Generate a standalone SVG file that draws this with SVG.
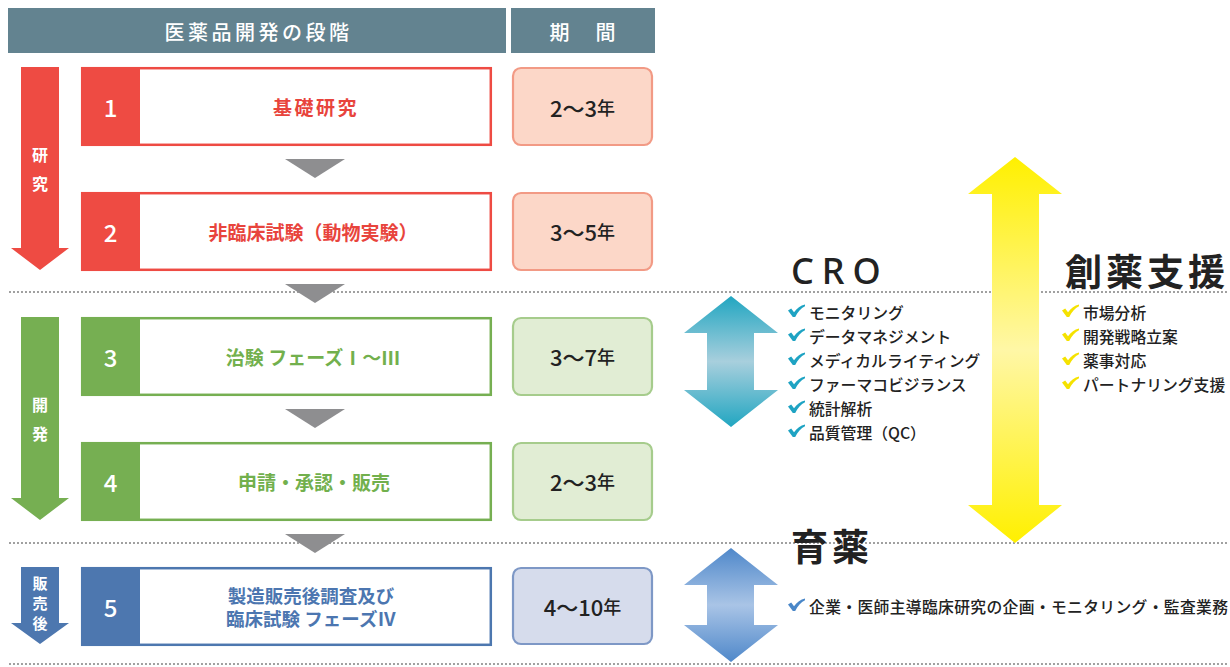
<svg xmlns="http://www.w3.org/2000/svg" width="1230" height="667" viewBox="0 0 1230 667">
<style>
text{font-family:"Noto Sans CJK JP","Noto Sans",sans-serif}
.hd{fill:#638390}
.hdt{fill:#fff;font-size:20px;font-weight:500;text-anchor:middle;dominant-baseline:central}
.vt{fill:#fff;font-size:16px;font-weight:700;text-anchor:middle;dominant-baseline:central}
.vs{font-size:15px}
.num{fill:#fff;font-size:24px;font-weight:500;text-anchor:middle;dominant-baseline:central}
.lbl{font-size:19px;font-weight:700;text-anchor:middle;dominant-baseline:central}
.per{fill:#222;font-size:22px;font-weight:500;text-anchor:middle;dominant-baseline:central}
.per tspan.y{font-size:18px}
.tri{fill:#8e8e90}
.dot{stroke:#8c8c8c;stroke-width:2.2;stroke-linecap:round;stroke-dasharray:0 4;fill:none}
.big{fill:#222;font-size:37px;font-weight:700;dominant-baseline:central}
.li{fill:#222;font-size:15.8px;font-weight:500;dominant-baseline:central}
.red{fill:#ee4b43}.redS{stroke:#ee4b43}.redT{fill:#e8443c}
.grn{fill:#76af52}.grnS{stroke:#76af52}.grnT{fill:#72b04d}
.blu{fill:#4d77af}.bluS{stroke:#4d77af}.bluT{fill:#4c76b0}
.box{fill:#fff;stroke-width:2.5}
</style>
<defs>
<linearGradient id="gc" x1="0" y1="0" x2="0" y2="1">
<stop offset="0" stop-color="#21a6c1"/><stop offset="0.5" stop-color="#a8cfdd"/><stop offset="1" stop-color="#21a6c1"/>
</linearGradient>
<linearGradient id="gb" x1="0" y1="0" x2="0" y2="1">
<stop offset="0" stop-color="#4f88ca"/><stop offset="0.5" stop-color="#a9c4e6"/><stop offset="1" stop-color="#4f88ca"/>
</linearGradient>
<linearGradient id="gy" x1="0" y1="0" x2="0" y2="1">
<stop offset="0" stop-color="#fff000"/><stop offset="0.5" stop-color="#fff7a6"/><stop offset="1" stop-color="#fff000"/>
</linearGradient>
<path id="ck" d="M0,-1.5 L3.2,-3.6 L6,0.3 C9,-4 12.5,-6.6 17,-7.6 L17,-5.8 C13,-3.8 9.6,0.2 7.2,5 L4.8,5 Z"/>
</defs>

<g id="dotted-lines">
<line class="dot" x1="10" y1="292" x2="1230" y2="292"/>
<line class="dot" x1="10" y1="543" x2="1230" y2="543"/>
<line class="dot" x1="10" y1="664" x2="1230" y2="664"/>
</g>

<g id="header">
<rect class="hd" x="8" y="8" width="498" height="45"/>
<rect class="hd" x="511" y="8" width="144" height="45"/>
<text class="hdt" x="258.5" y="31" letter-spacing="3.5">医薬品開発の段階</text>
<text class="hdt" x="584" y="31" letter-spacing="3">期　間</text>
</g>

<g id="stage-arrows">
<path class="red" d="M21,67 L59,67 L59,248 L69,248 L40,270 L11,248 L21,248 Z"/>
<text class="vt" x="40" y="154">研</text>
<text class="vt" x="40" y="183">究</text>
<path class="grn" d="M21,317 L59,317 L59,498 L69,498 L40,520 L11,498 L21,498 Z"/>
<text class="vt" x="40" y="404">開</text>
<text class="vt" x="40" y="433">発</text>
<path class="blu" d="M21,567 L59,567 L59,623 L69,623 L40,644 L11,623 L21,623 Z"/>
<text class="vt vs" x="40" y="582">販</text>
<text class="vt vs" x="40" y="602">売</text>
<text class="vt vs" x="40" y="622">後</text>
</g>

<g id="connectors">
<path class="tri" d="M285,159 L345,159 L315,178 Z"/>
<path class="tri" d="M285,284 L345,284 L315,303 Z"/>
<path class="tri" d="M285,409 L345,409 L315,428 Z"/>
<path class="tri" d="M285,534 L345,534 L315,553 Z"/>
</g>

<g id="stage1">
<rect class="box redS" x="82.2" y="68.2" width="408.6" height="76.6"/>
<rect class="red" x="81" y="67" width="59" height="79"/>
<text class="num" x="110.5" y="106.5">1</text>
<text class="lbl redT" x="316" y="106.5" letter-spacing="2.5">基礎研究</text>
<rect x="513" y="68" width="139" height="77" rx="8" fill="#fcd7c8" stroke="#f29a85" stroke-width="2.2"/>
<text class="per" x="582.5" y="106.5">2〜3<tspan class="y">年</tspan></text>
</g>

<g id="stage2">
<rect class="box redS" x="82.2" y="193.2" width="408.6" height="76.6"/>
<rect class="red" x="81" y="192" width="59" height="79"/>
<text class="num" x="110.5" y="231">2</text>
<text class="lbl redT" x="313" y="231">非臨床試験（動物実験）</text>
<rect x="513" y="193" width="139" height="77" rx="8" fill="#fcd7c8" stroke="#f29a85" stroke-width="2.2"/>
<text class="per" x="582.5" y="231">3〜5<tspan class="y">年</tspan></text>
</g>

<g id="stage3">
<rect class="box grnS" x="82.2" y="318.2" width="408.6" height="76.6"/>
<rect class="grn" x="81" y="317" width="59" height="79"/>
<text class="num" x="110.5" y="356">3</text>
<text class="lbl grnT" x="313" y="356">治験 フェーズⅠ〜Ⅲ</text>
<rect x="513" y="318" width="139" height="77" rx="8" fill="#e1edd4" stroke="#a6cc8c" stroke-width="2.2"/>
<text class="per" x="582.5" y="356">3〜7<tspan class="y">年</tspan></text>
</g>

<g id="stage4">
<rect class="box grnS" x="82.2" y="443.2" width="408.6" height="76.6"/>
<rect class="grn" x="81" y="442" width="59" height="79"/>
<text class="num" x="110.5" y="481">4</text>
<text class="lbl grnT" x="314" y="481">申請・承認・販売</text>
<rect x="513" y="443" width="139" height="77" rx="8" fill="#e1edd4" stroke="#a6cc8c" stroke-width="2.2"/>
<text class="per" x="582.5" y="481">2〜3<tspan class="y">年</tspan></text>
</g>

<g id="stage5">
<rect class="box bluS" x="82.2" y="568.2" width="408.6" height="76.6"/>
<rect class="blu" x="81" y="567" width="59" height="79"/>
<text class="num" x="110.5" y="606">5</text>
<text class="lbl bluT" style="font-size:18.5px"><tspan x="311" y="594.5">製造販売後調査及び</tspan><tspan x="311" y="617.5">臨床試験 フェーズⅣ</tspan></text>
<rect x="513" y="568" width="139" height="76" rx="8" fill="#d6dcec" stroke="#7e98c6" stroke-width="2.2"/>
<text class="per" x="582.5" y="606">4〜10<tspan class="y">年</tspan></text>
</g>

<g id="cro">
<path fill="url(#gc)" d="M731,296 L778,333 L754,333 L754,390 L778,390 L731,427 L684,390 L707,390 L707,333 L684,333 Z"/>
<text x="791" y="270" fill="#222" font-size="36" font-weight="500" letter-spacing="8" dominant-baseline="central" style="font-family:'Noto Sans',sans-serif">CRO</text>
<g fill="#1ea3c3">
<use href="#ck" x="788" y="312"/>
<use href="#ck" x="788" y="336"/>
<use href="#ck" x="788" y="360"/>
<use href="#ck" x="788" y="384"/>
<use href="#ck" x="788" y="408"/>
<use href="#ck" x="788" y="432"/>
</g>
<text class="li" x="809" y="312">モニタリング</text>
<text class="li" x="809" y="336">データマネジメント</text>
<text class="li" x="809" y="360">メディカルライティング</text>
<text class="li" x="809" y="384">ファーマコビジランス</text>
<text class="li" x="809" y="408">統計解析</text>
<text class="li" x="809" y="432">品質管理（QC）</text>
</g>

<g id="souyaku">
<path fill="url(#gy)" d="M1015,157 L1062,194 L1039,194 L1039,505 L1062,505 L1015,543 L968,505 L992,505 L992,194 L968,194 Z"/>
<text class="big" x="1065" y="270" letter-spacing="4">創薬支援</text>
<g fill="#f5e200">
<use href="#ck" x="1062" y="312"/>
<use href="#ck" x="1062" y="336"/>
<use href="#ck" x="1062" y="360"/>
<use href="#ck" x="1062" y="384"/>
</g>
<text class="li" x="1083" y="312">市場分析</text>
<text class="li" x="1083" y="336">開発戦略立案</text>
<text class="li" x="1083" y="360">薬事対応</text>
<text class="li" x="1083" y="384">パートナリング支援</text>
</g>

<g id="ikuyaku">
<path fill="url(#gb)" d="M731,548 L778,585 L754,585 L754,625 L778,625 L731,662 L684,625 L707,625 L707,585 L684,585 Z"/>
<text class="big" x="791" y="545" letter-spacing="4">育薬</text>
<use href="#ck" x="788" y="606" fill="#4a87c8"/>
<text class="li" x="809" y="606" textLength="419" lengthAdjust="spacing">企業・医師主導臨床研究の企画・モニタリング・監査業務</text>
</g>
</svg>
